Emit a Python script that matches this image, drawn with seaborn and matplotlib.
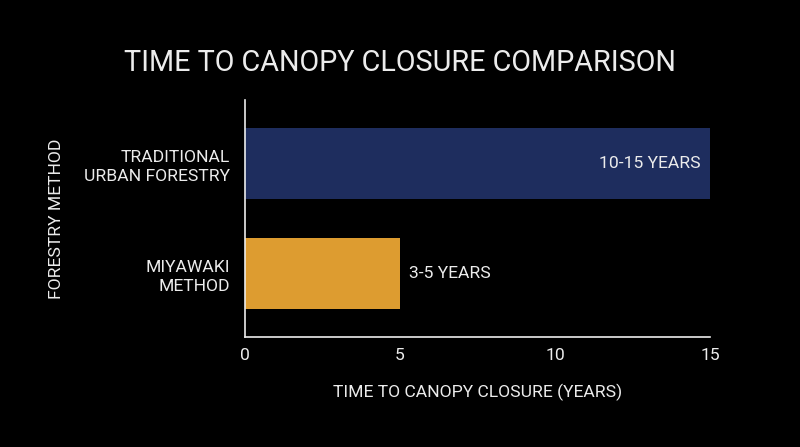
import matplotlib
matplotlib.use('Agg')
import matplotlib.pyplot as plt
import seaborn as sns
import pandas as pd

# chart data
methods = ['TRADITIONAL\nURBAN FORESTRY', 'MIYAWAKI\nMETHOD']
years = [15, 5]
bar_labels = ['10-15 YEARS', '3-5 YEARS']
bar_colors = ['#1e2d5e', '#dd9c30']
x_ticks = [0, 5, 10, 15]

title = 'TIME TO CANOPY CLOSURE COMPARISON'
x_label = 'TIME TO CANOPY CLOSURE (YEARS)'
y_label = 'FORESTRY METHOD'

sns.set_style('dark')
plt.rcParams['font.family'] = ['Roboto', 'DejaVu Sans']
fg = '#ececec'
fs = 12.6

df = pd.DataFrame({'method': methods, 'years': years})

fig = plt.figure(figsize=(8, 4.47), dpi=100, facecolor='black')
ax = fig.add_axes([0.30625, 0.246, 0.58125, 0.530])
ax.set_facecolor('black')

sns.barplot(data=df, x='years', y='method', hue='method', palette=bar_colors,
            orient='h', width=0.645, legend=False, ax=ax, saturation=1,
            edgecolor='none', linewidth=0)

ax.set_xlim(0, 15)
ax.set_ylim(1.577, -0.577)
ax.set_xticks(x_ticks)
ax.tick_params(axis='x', direction='in', length=7.5, width=1.2, color=fg,
               labelcolor=fg, labelsize=fs, pad=8)
ax.tick_params(axis='y', length=0, labelcolor=fg, labelsize=fs, pad=11)
for lab in ax.get_yticklabels():
    lab.set_linespacing(1.3)
    lab.set_horizontalalignment('right')
    lab.set_multialignment('right')

for side in ['top', 'right']:
    ax.spines[side].set_visible(False)
for side in ['left', 'bottom']:
    ax.spines[side].set_visible(True)
    ax.spines[side].set_color(fg)
    ax.spines[side].set_linewidth(1.2)
ax.grid(False)

# value annotations
for i, (v, lab) in enumerate(zip(years, bar_labels)):
    if v >= 10:
        ax.text(v - 0.3, i, lab, ha='right', va='center', color=fg, fontsize=fs)
    else:
        ax.text(v + 0.3, i, lab, ha='left', va='center', color=fg, fontsize=fs)

ax.set_xlabel(x_label, color=fg, fontsize=fs, labelpad=15)
ax.set_ylabel(y_label, color=fg, fontsize=fs, labelpad=14)
fig.suptitle(title, color=fg, fontsize=20.7, y=0.89)

fig.savefig('out.png', dpi=100, facecolor='black')
